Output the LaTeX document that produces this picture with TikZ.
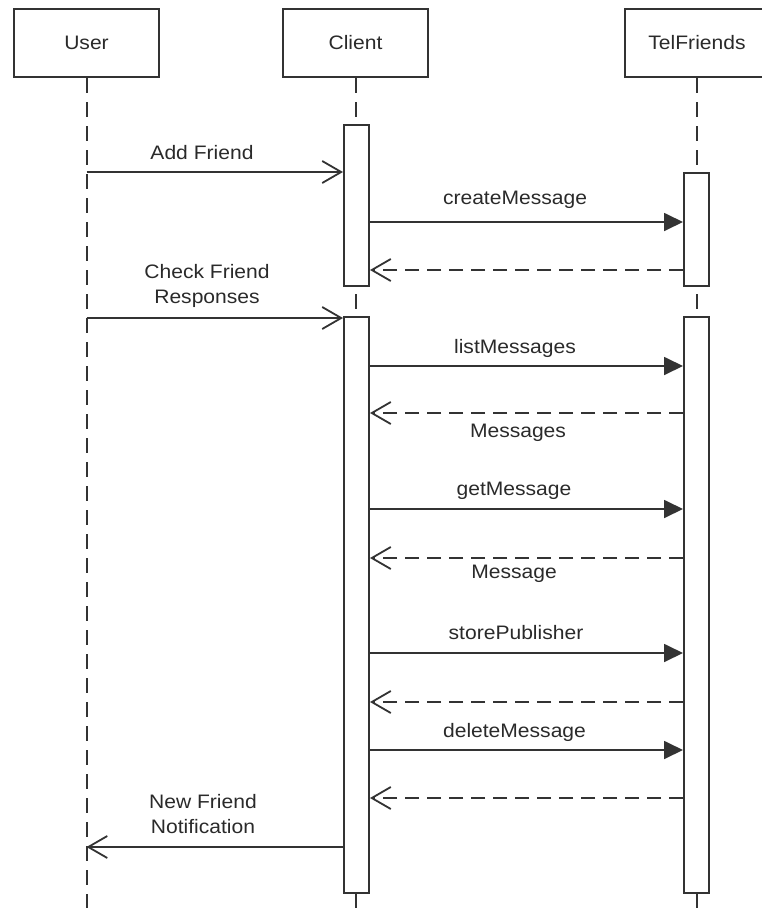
\documentclass[tikz,border=0pt]{standalone}
\usepackage{fontspec}
\setmainfont{Liberation Sans}[FakeStretch=1.08]
\usetikzlibrary{arrows.meta}
\definecolor{ink}{HTML}{333333}
\definecolor{txt}{HTML}{2A2A2A}

\begin{document}
\begin{tikzpicture}[x=1pt,y=-1pt,
  every node/.style={font=\fontsize{19.5}{25}\selectfont, text=txt},
  head/.style={draw=ink, line width=2pt, fill=white, minimum width=145pt,
               minimum height=68pt, inner sep=0pt},
  act/.style={draw=ink, line width=2pt, fill=white, minimum width=25pt, inner sep=0pt},
  life/.style={draw=ink, line width=2pt, dash pattern=on 15pt off 9pt},
  call/.style={draw=ink, line width=1.8pt, -{Triangle[length=19pt,width=18pt]}},
  send/.style={draw=ink, line width=1.8pt, -{Straight Barb[length=19pt,width=22pt]}},
  reply/.style={send, dash pattern=on 14pt off 8pt},
  lbl/.style={align=center, inner sep=0pt}]

\useasboundingbox (0,0) rectangle (762,908);
\fill[white] (0,0) rectangle (762,908);
\clip (0,0) rectangle (762,908);

% participants
\node[head] (user)   at (86.5,43)  {User};
\node[head] (client) at (355.5,43) {Client};
\node[head] (tel)    at (697,43)   {TelFriends};

% lifelines
\coordinate (bottom) at (0,908);
\draw[life] (user.south)   -- (user.south |- bottom);
\draw[life] (client.south) -- (client.south |- bottom);
\draw[life] (tel.south)    -- (tel.south |- bottom);

% activation bars
\node[act, minimum height=161pt] (ca1) at (356.5,205.5) {};
\node[act, minimum height=576pt] (ca2) at (356.5,605)   {};
\node[act, minimum height=113pt] (ta1) at (696.5,229.5) {};
\node[act, minimum height=576pt] (ta2) at (696.5,605)   {};

% message rows
\coordinate (r1)  at (0,172);
\coordinate (r2)  at (0,222);
\coordinate (r3)  at (0,270);
\coordinate (r4)  at (0,318);
\coordinate (r5)  at (0,366);
\coordinate (r6)  at (0,413);
\coordinate (r7)  at (0,509);
\coordinate (r8)  at (0,558);
\coordinate (r9)  at (0,653);
\coordinate (r10) at (0,702);
\coordinate (r11) at (0,750);
\coordinate (r12) at (0,798);
\coordinate (r13) at (0,847);

% messages
\draw[send]  (user.south |- r1) -- (ca1.west |- r1);
\draw[call]  (ca1.east |- r2) -- (ta1.west |- r2);
\draw[reply] (ta1.west |- r3) -- (ca1.east |- r3);
\draw[send]  (user.south |- r4) -- (ca2.west |- r4);
\draw[call]  (ca2.east |- r5) -- (ta2.west |- r5);
\draw[reply] (ta2.west |- r6) -- (ca2.east |- r6);
\draw[call]  (ca2.east |- r7) -- (ta2.west |- r7);
\draw[reply] (ta2.west |- r8) -- (ca2.east |- r8);
\draw[call]  (ca2.east |- r9) -- (ta2.west |- r9);
\draw[reply] (ta2.west |- r10) -- (ca2.east |- r10);
\draw[call]  (ca2.east |- r11) -- (ta2.west |- r11);
\draw[reply] (ta2.west |- r12) -- (ca2.east |- r12);
\draw[send]  (ca2.west |- r13) -- (user.south |- r13);

% labels
\node[lbl] (l1)  at (202,153)   {Add Friend};
\node[lbl] (l2)  at (515,200)   {createMessage};
\node[lbl] (l4)  at (207,285.5) {Check Friend\\Responses};
\node[lbl] (l5)  at (515,348)   {listMessages};
\node[lbl] (l6)  at (518,433)   {Messages};
\node[lbl] (l7)  at (514,491)   {getMessage};
\node[lbl] (l8)  at (514,574)   {Message};
\node[lbl] (l9)  at (516,633)   {storePublisher};
\node[lbl] (l11) at (514.5,732) {deleteMessage};
\node[lbl] (l13) at (203,814.5) {New Friend\\Notification};
\end{tikzpicture}
\end{document}
